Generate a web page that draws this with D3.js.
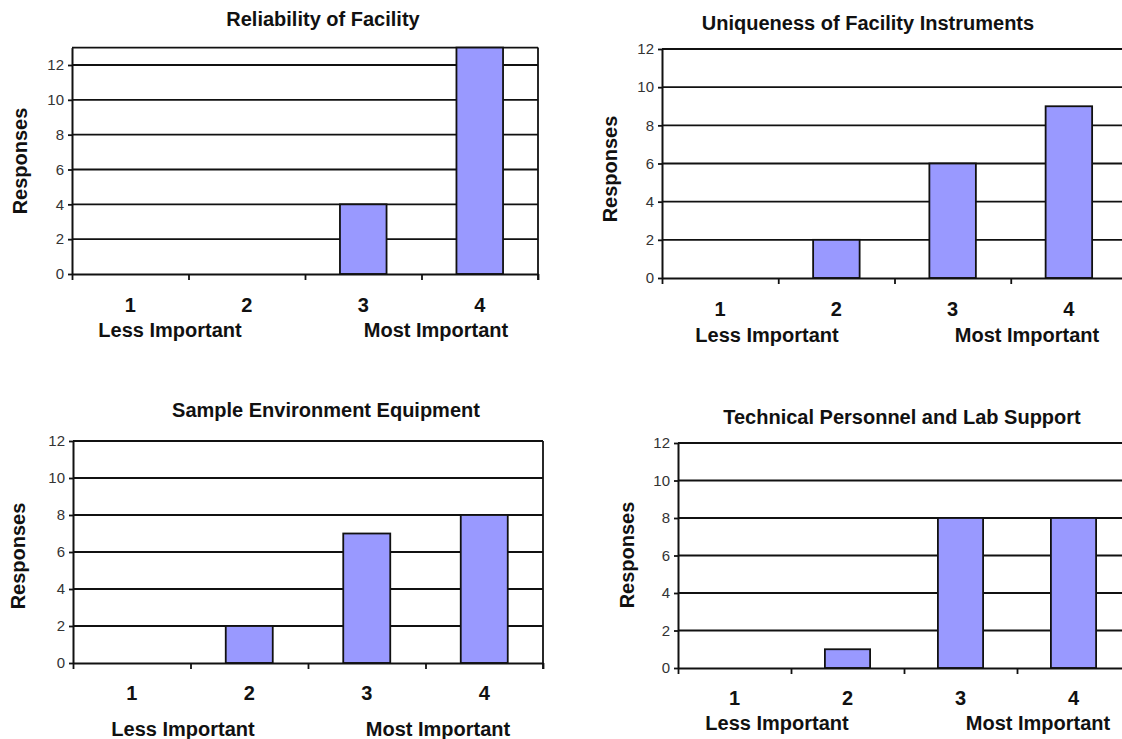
<!DOCTYPE html>
<html>
<head>
<meta charset="utf-8">
<script src="https://cdn.jsdelivr.net/npm/d3@7"></script>
<style>
  body { margin: 0; background: #fff; }
  text { font-family: "Liberation Sans", Arial, sans-serif; }
</style>
</head>
<body>
<div id="chart"></div>
<script>
// Data
var categories = ["1", "2", "3", "4"];
var titles = [
  "Reliability of Facility",
  "Uniqueness of Facility Instruments",
  "Sample Environment Equipment",
  "Technical Personnel and Lab Support"
];
var reliability = [0, 0, 4, 13];
var uniqueness = [0, 2, 6, 9];
var sampleEnv = [0, 2, 7, 8];
var techSupport = [0, 1, 8, 8];
var yTicks = [0, 2, 4, 6, 8, 10, 12];
var lessLabel = "Less Important";
var mostLabel = "Most Important";

var svgWidth = 1122;
var svgHeight = 739;

var svg = d3.select("#chart")
  .append("svg")
  .attr("width", svgWidth)
  .attr("height", svgHeight);

// Placement of each panel (pixels)
var panels = [
  { values: reliability, yMax: 13, left: 72, right: 538, y0: 274, y12: 65,
    titleX: 323, titleY: 26, respX: 20, respY: 161, numY: 312, lblY: 337, lessX: 170, mostX: 436 },
  { values: uniqueness, yMax: 12, left: 662, right: 1127, y0: 278, y12: 49,
    titleX: 868, titleY: 30, respX: 610, respY: 169, numY: 316, lblY: 342, lessX: 767, mostX: 1027 },
  { values: sampleEnv, yMax: 12, left: 73, right: 543, y0: 663, y12: 441,
    titleX: 326, titleY: 417, respX: 18, respY: 556, numY: 700, lblY: 736, lessX: 183, mostX: 438 },
  { values: techSupport, yMax: 12, left: 678, right: 1130, y0: 668, y12: 443,
    titleX: 902, titleY: 424, respX: 627, respY: 555, numY: 705, lblY: 730, lessX: 777, mostX: 1038 }
];

var lineColor = "#111";
var lineWidth = 1.8;

function drawPanel(p, title) {
  var g = svg.append("g");

  var unit = (p.y0 - p.y12) / 12;
  var y = d3.scaleLinear()
    .domain([0, p.yMax])
    .range([p.y0, p.y0 - p.yMax * unit]);

  var x = d3.scaleBand()
    .domain(categories)
    .range([p.left, p.right])
    .paddingInner(0.6)
    .paddingOuter(0.3);

  var xEdge = d3.scaleLinear()
    .domain([0, categories.length])
    .range([p.left, p.right]);

  var rows = categories.map((c, i) => ({ cat: c, value: p.values[i] }));

  // gridlines
  g.append("g")
    .selectAll("line")
    .data(yTicks.filter(d => d > 0).concat(p.yMax > 12 ? [p.yMax] : []))
    .enter()
    .append("line")
    .attr("x1", p.left)
    .attr("x2", p.right)
    .attr("y1", d => y(d))
    .attr("y2", d => y(d))
    .attr("stroke", lineColor)
    .attr("stroke-width", lineWidth);

  // right border
  g.append("line")
    .attr("x1", p.right).attr("x2", p.right)
    .attr("y1", y(p.yMax)).attr("y2", p.y0 + 6)
    .attr("stroke", lineColor)
    .attr("stroke-width", lineWidth);

  // bars
  g.append("g")
    .selectAll("rect")
    .data(rows.filter(d => d.value > 0))
    .enter()
    .append("rect")
    .attr("x", d => x(d.cat))
    .attr("y", d => y(d.value))
    .attr("width", x.bandwidth())
    .attr("height", d => y(0) - y(d.value))
    .attr("fill", "#9999ff")
    .attr("stroke", lineColor)
    .attr("stroke-width", lineWidth);

  // y axis
  var yAxis = g.append("g")
    .attr("transform", `translate(${p.left},0)`)
    .call(d3.axisLeft(y).tickValues(yTicks).tickSizeInner(4).tickSizeOuter(0).tickPadding(4));
  yAxis.select(".domain").attr("stroke", lineColor).attr("stroke-width", 2);
  yAxis.selectAll(".tick line").attr("stroke", lineColor).attr("stroke-width", lineWidth);
  yAxis.selectAll(".tick text")
    .attr("font-size", "15px")
    .attr("fill", "#333")
    .style("font-family", "'Liberation Sans', Arial, sans-serif");

  // x axis (separators between categories)
  var xAxis = g.append("g")
    .attr("transform", `translate(0,${p.y0})`)
    .call(d3.axisBottom(xEdge).tickValues(d3.range(categories.length + 1)).tickFormat("").tickSizeInner(6).tickSizeOuter(0));
  xAxis.select(".domain").attr("stroke", lineColor).attr("stroke-width", 2);
  xAxis.selectAll(".tick line").attr("stroke", lineColor).attr("stroke-width", lineWidth);

  // category numbers
  g.append("g")
    .selectAll("text")
    .data(categories)
    .enter()
    .append("text")
    .attr("x", d => x(d) + x.bandwidth() / 2)
    .attr("y", p.numY)
    .attr("text-anchor", "middle")
    .attr("font-size", "20px")
    .attr("font-weight", "bold")
    .attr("fill", "#111")
    .text(d => d);

  g.append("text")
    .attr("x", p.lessX)
    .attr("y", p.lblY)
    .attr("text-anchor", "middle")
    .attr("font-size", "20px")
    .attr("font-weight", "bold")
    .attr("fill", "#111")
    .text(lessLabel);

  g.append("text")
    .attr("x", p.mostX)
    .attr("y", p.lblY)
    .attr("text-anchor", "middle")
    .attr("font-size", "20px")
    .attr("font-weight", "bold")
    .attr("fill", "#111")
    .text(mostLabel);

  // title
  g.append("text")
    .attr("x", p.titleX)
    .attr("y", p.titleY)
    .attr("text-anchor", "middle")
    .attr("font-size", "20px")
    .attr("font-weight", "bold")
    .attr("fill", "#111")
    .text(title);

  // y label
  g.append("text")
    .attr("transform", `translate(${p.respX + 7},${p.respY}) rotate(-90)`)
    .attr("text-anchor", "middle")
    .attr("font-size", "20px")
    .attr("font-weight", "bold")
    .attr("fill", "#111")
    .text("Responses");
}

panels.forEach((p, i) => drawPanel(p, titles[i]));
</script>
</body>
</html>
